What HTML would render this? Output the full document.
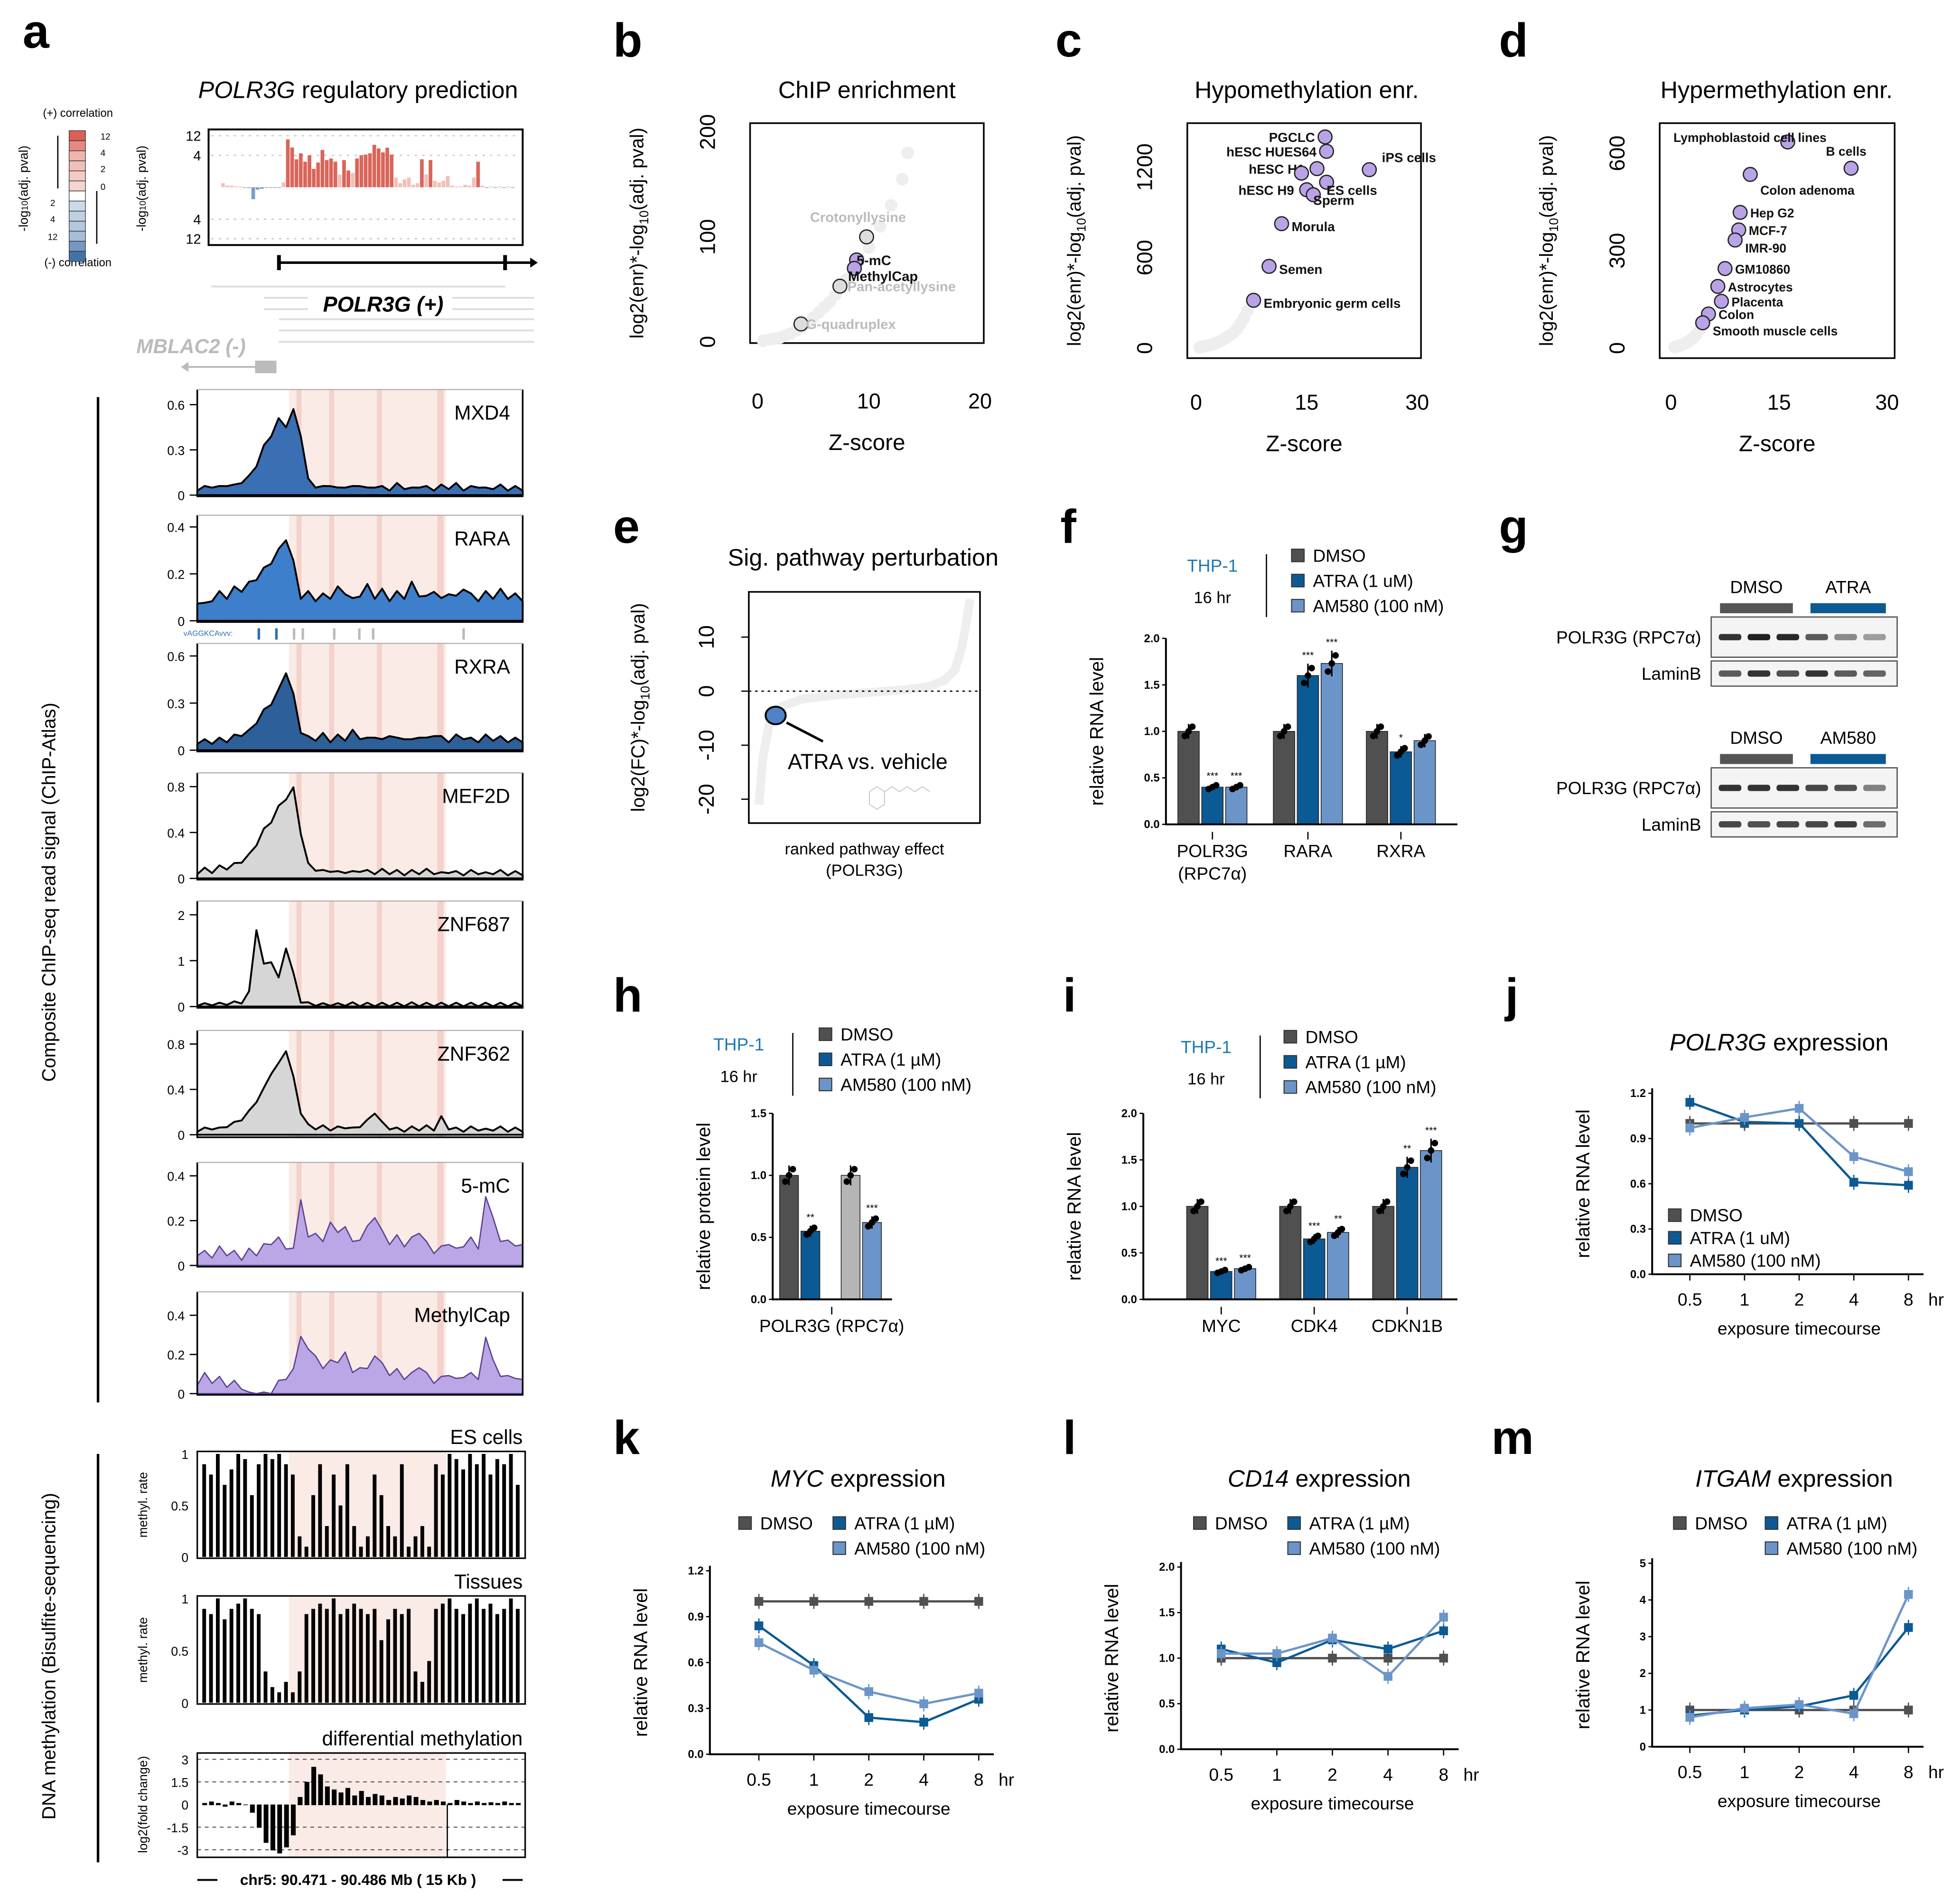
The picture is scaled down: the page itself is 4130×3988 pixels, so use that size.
<!DOCTYPE html>
<html><head><meta charset="utf-8">
<style>
html,body{margin:0;padding:0;background:#fff;}
svg{display:block;font-family:"Liberation Sans",sans-serif;}
.pl{font-size:38px;font-weight:bold;}
.tt{font-size:19px;}
.tk{font-size:11px;}
.at{font-size:15px;}
</style></head>
<body>
<svg id="fig" xmlns="http://www.w3.org/2000/svg" width="4130" height="3988" viewBox="0 0 1560 1506.4">
<rect width="1560" height="1506.4" fill="#fff"/>
<g>
<text class="pl" x="18" y="38">a</text>
<text class="pl" x="488" y="45">b</text>
<text class="pl" x="840" y="45">c</text>
<text class="pl" x="1193" y="45">d</text>
<text class="pl" x="488" y="432">e</text>
<text class="pl" x="844" y="432">f</text>
<text class="pl" x="1193" y="432">g</text>
<text class="pl" x="488" y="805">h</text>
<text class="pl" x="846" y="805">i</text>
<text class="pl" x="1198" y="805">j</text>
<text class="pl" x="488" y="1157">k</text>
<text class="pl" x="846" y="1157">l</text>
<text class="pl" x="1187" y="1157">m</text>
</g>
<text class="tt" x="285" y="78" text-anchor="middle"><tspan font-style="italic">POLR3G</tspan> regulatory prediction</text>
<text class="tt" x="690" y="78" text-anchor="middle">ChIP enrichment</text>
<text class="tt" x="1040" y="78" text-anchor="middle">Hypomethylation enr.</text>
<text class="tt" x="1414" y="78" text-anchor="middle">Hypermethylation enr.</text>
<text class="tt" x="687" y="450" text-anchor="middle">Sig. pathway perturbation</text>
<text class="tt" x="1416" y="836" text-anchor="middle"><tspan font-style="italic">POLR3G</tspan> expression</text>
<text class="tt" x="683" y="1183" text-anchor="middle"><tspan font-style="italic">MYC</tspan> expression</text>
<text class="tt" x="1050" y="1183" text-anchor="middle"><tspan font-style="italic">CD14</tspan> expression</text>
<text class="tt" x="1428" y="1183" text-anchor="middle"><tspan font-style="italic">ITGAM</tspan> expression</text>

<text class="at" transform="translate(44,710) rotate(-90)" text-anchor="middle" font-size="16">Composite ChIP-seq read signal (ChIP-Atlas)</text>
<line x1="78" y1="316" x2="78" y2="1116" stroke="#000" stroke-width="2"/>
<text class="at" transform="translate(44,1318) rotate(-90)" text-anchor="middle" font-size="16">DNA methylation (Bisulfite-sequencing)</text>
<line x1="78" y1="1157" x2="78" y2="1482" stroke="#000" stroke-width="2"/>

<g>
<text x="62" y="93" font-size="9" text-anchor="middle">(+) correlation</text>
<text x="62" y="212" font-size="9" text-anchor="middle">(-) correlation</text>
<text transform="translate(22,150) rotate(-90)" font-size="10" text-anchor="middle">-log<tspan font-size="7">10</tspan>(adj. pval)</text>
<g id="legcells"></g>
<line x1="46" y1="150" x2="46" y2="108" stroke="#000"/>
<line x1="77" y1="152" x2="77" y2="194" stroke="#000"/>
<text x="80" y="111" font-size="7">12</text>
<text x="80" y="124" font-size="7">4</text>
<text x="80" y="137" font-size="7">2</text>
<text x="80" y="151" font-size="7">0</text>
<text x="40" y="164" font-size="7">2</text>
<text x="40" y="177" font-size="7">4</text>
<text x="38" y="191" font-size="7">12</text>
</g>
<g>
<rect x="166" y="103" width="250" height="92" fill="none" stroke="#000" stroke-width="1.5"/>
<text transform="translate(116,150) rotate(-90)" font-size="10" text-anchor="middle">-log<tspan font-size="7">10</tspan>(adj. pval)</text>
<g id="predticks"></g>
<g id="predbars"></g>
<line x1="222" y1="209" x2="424" y2="209" stroke="#000" stroke-width="2"/>
<line x1="222" y1="203" x2="222" y2="215" stroke="#000" stroke-width="3"/>
<line x1="402" y1="203" x2="402" y2="215" stroke="#000" stroke-width="3"/>
<polygon points="422,205 428,209 422,213" fill="#000"/>
<g stroke="#ddd" stroke-width="1.5">
<line x1="168" y1="228" x2="402" y2="228"/><line x1="210" y1="237" x2="245" y2="237"/><line x1="360" y1="237" x2="425" y2="237"/>
<line x1="210" y1="246" x2="245" y2="246"/><line x1="360" y1="246" x2="425" y2="246"/>
<line x1="222" y1="254" x2="425" y2="254"/><line x1="222" y1="263" x2="425" y2="263"/><line x1="222" y1="272" x2="425" y2="272"/>
</g>
<text x="305" y="248" text-anchor="middle" font-size="17" font-weight="bold" font-style="italic">POLR3G (+)</text>
<text x="152" y="281" text-anchor="middle" font-size="16" font-weight="bold" font-style="italic" fill="#bbb">MBLAC2 (-)</text>
<line x1="150" y1="292" x2="205" y2="292" stroke="#bbb" stroke-width="1.5"/>
<rect x="203" y="287" width="17" height="10" fill="#bbb"/>
<polygon points="144,292 150,288 150,296" fill="#bbb"/>
</g>
<g id="tracks"></g>
<g id="methyl"></g>
<text x="285" y="1500" text-anchor="middle" font-size="12" font-weight="bold">chr5: 90.471 - 90.486 Mb ( 15 Kb )</text>
<line x1="157" y1="1496" x2="173" y2="1496" stroke="#000" stroke-width="1.5"/>
<line x1="400" y1="1496" x2="416" y2="1496" stroke="#000" stroke-width="1.5"/>

<g id="scatters"></g>
<g id="panelE"></g>
<g id="bars"></g>
<g id="western"></g>
<g id="lines"></g>
</svg>
<script>
// ---------- DATA ----------
const legendVals=[12,8,4,3,2,1,0,-1,-2,-3,-4,-8,-12];
const predVals=[0.5,0.2,0.2,0.1,0.1,0,-0.1,-1.5,-0.3,-0.2,0,0,0,0,0.6,10.5,7.2,3.5,4.8,3.2,4.0,2.3,3.1,6.2,3.4,3.6,3.2,1.6,3.4,2.1,1.8,3.6,4.0,4.3,4.8,8.3,6.8,5.2,7.1,4.3,1.2,0.5,1.0,1.2,0.3,0.5,3.5,1.6,3.4,0.8,0.6,0.8,1.4,0.2,0.1,0.1,0.3,0.2,1.2,3.2,0.2,0,0.1,0,0.1,0,0.1,0];
const mxd4=[0.04,0.05,0.06,0.05,0.07,0.06,0.09,0.12,0.2,0.32,0.4,0.5,0.46,0.56,0.4,0.1,0.06,0.05,0.07,0.04,0.06,0.05,0.07,0.04,0.06,0.05,0.04,0.07,0.05,0.04,0.06,0.05,0.04,0.06,0.05,0.07,0.04,0.05,0.06,0.04,0.05,0.06,0.04,0.05,0.04];
const rara=[0.08,0.07,0.09,0.12,0.1,0.14,0.13,0.16,0.18,0.22,0.25,0.3,0.35,0.25,0.1,0.12,0.09,0.11,0.1,0.14,0.12,0.09,0.11,0.15,0.1,0.13,0.09,0.12,0.1,0.16,0.11,0.1,0.13,0.09,0.12,0.1,0.14,0.11,0.09,0.12,0.1,0.13,0.1,0.11,0.09];
const rxra=[0.05,0.06,0.05,0.07,0.06,0.09,0.1,0.12,0.18,0.25,0.3,0.38,0.5,0.35,0.12,0.08,0.07,0.1,0.06,0.09,0.07,0.12,0.08,0.07,0.09,0.06,0.1,0.07,0.08,0.06,0.09,0.07,0.1,0.08,0.06,0.09,0.08,0.07,0.06,0.09,0.07,0.08,0.06,0.07,0.06];
const mef2d=[0.05,0.08,0.06,0.1,0.09,0.12,0.15,0.2,0.3,0.42,0.5,0.62,0.7,0.78,0.4,0.12,0.08,0.06,0.07,0.05,0.06,0.05,0.07,0.06,0.05,0.07,0.05,0.06,0.04,0.06,0.05,0.07,0.05,0.04,0.06,0.05,0.04,0.06,0.05,0.04,0.05,0.06,0.04,0.05,0.04];
const znf687=[0.05,0.04,0.06,0.05,0.07,0.08,0.1,0.3,1.7,0.9,1.0,0.6,1.3,0.7,0.12,0.06,0.05,0.04,0.05,0.04,0.05,0.06,0.04,0.05,0.04,0.05,0.04,0.05,0.04,0.06,0.04,0.05,0.04,0.05,0.04,0.05,0.04,0.05,0.04,0.05,0.04,0.05,0.04,0.05,0.04];
const znf362=[0.04,0.05,0.06,0.05,0.08,0.1,0.14,0.2,0.3,0.4,0.55,0.62,0.75,0.5,0.2,0.08,0.06,0.07,0.05,0.06,0.07,0.05,0.08,0.12,0.2,0.1,0.06,0.05,0.04,0.06,0.05,0.07,0.05,0.15,0.06,0.05,0.04,0.06,0.05,0.04,0.05,0.06,0.04,0.05,0.04];
const mc5=[0.05,0.06,0.04,0.08,0.05,0.06,0.03,0.07,0.05,0.09,0.1,0.12,0.08,0.07,0.3,0.12,0.15,0.1,0.2,0.14,0.18,0.1,0.12,0.17,0.22,0.15,0.1,0.13,0.09,0.12,0.15,0.1,0.06,0.08,0.1,0.07,0.09,0.12,0.08,0.3,0.22,0.1,0.12,0.08,0.1];
const methylcap=[0.05,0.1,0.06,0.08,0.04,0.06,0.03,0.0,0.0,0.0,0.0,0.06,0.08,0.12,0.3,0.22,0.2,0.12,0.18,0.15,0.22,0.1,0.14,0.12,0.2,0.15,0.1,0.12,0.08,0.1,0.14,0.1,0.06,0.08,0.1,0.07,0.09,0.1,0.08,0.28,0.18,0.08,0.1,0.07,0.08];
const esRate=[0.9,0.8,1,0.7,0.85,1,0.95,0.6,0.9,1,0.95,1,0.9,0.8,0.2,0.1,0.6,0.9,0.3,0.8,0.5,0.9,0.3,0.1,0.2,0.8,0.6,0.3,0.2,0.9,0.1,0.2,0.3,0.1,0.9,0.8,1,0.95,0.85,1,0.9,1,0.8,0.95,0.9,1,0.7];
const tissueRate=[0.9,0.85,1,0.8,0.9,0.95,1,0.9,0.85,0.3,0.15,0.1,0.2,0.1,0.3,0.85,0.9,0.95,0.9,1,0.85,0.9,0.95,0.9,0.85,0.9,0.6,0.8,0.9,0.85,0.9,0.3,0.2,0.4,0.9,0.95,1,0.9,0.85,0.95,1,0.9,0.95,0.85,0.9,1,0.9];
const diffMeth=[0.1,0.2,0.1,-0.1,0.2,0.1,0,-0.5,-1.5,-2.5,-3,-3.2,-2.8,-2,0.5,1.5,2.5,2,1.2,1,0.8,1.1,0.6,0.9,0.5,0.7,0.6,0.3,0.5,0.4,0.6,0.5,0.3,0.2,0.3,0.2,0.1,0.3,0.2,0.1,0.2,0.1,0.15,0.1,0.2,0.1,0.1];

const bX=[9.8,8.9,8.7,7.4,3.9];
const bY=[100,78,70,53,17];
const bLab=['Crotonyllysine','5-mC','MethylCap','Pan-acetyllysine','G-quadruplex'];
const bBgX=[0.5,1,1.5,2,2.5,3,3.5,4,4.5,5,5.5,6,6.5,7,7.5,8,9,10,11,12,13,13.5];
const bBgY=[1,2,3,4,6,8,11,14,18,23,28,33,38,45,52,60,75,90,110,130,155,180];
const cX=[17.5,17.7,16.4,14.3,15,23.5,17.7,15.9,11.6,9.9,7.8];
const cY=[1400,1305,1190,1160,1050,1183,1100,1017,825,542,317];
const cLab=['PGCLC','hESC HUES64','hESC H1','','hESC H9','iPS cells','ES cells','Sperm','Morula','Semen','Embryonic germ cells'];
const cBgX=[0.5,1,1.5,2,2.5,3,3.5,4,4.5,5,5.5,6,6.5,7];
const cBgY=[5,10,15,22,30,40,52,66,82,100,125,160,200,250];
const dX=[16.2,25,11,9.6,9.4,8.9,7.5,6.5,7,5.2,4.4];
const dY=[635,554,535,418,364,333,245,190,144,105,78];
const dLab=['Lymphoblastoid cell lines','B cells','Colon adenoma','Hep G2','MCF-7','IMR-90','GM10860','Astrocytes','Placenta','Colon','Smooth muscle cells'];
const dBgX=[0.5,1,1.5,2,2.5,3,3.5,4];
const dBgY=[3,6,10,15,22,30,42,58];
const eRank=[0,0.02,0.05,0.1,0.2,0.3,0.4,0.5,0.6,0.7,0.8,0.88,0.93,0.96,0.98,1];
const eVal=[-21,-12,-6,-3,-1.5,-1,-0.6,-0.3,0,0.3,0.8,2,4,8,12,17];
const fGroups=['POLR3G','RARA','RXRA'];
const fDMSO=[1.0,1.0,1.0];
const fATRA=[0.40,1.60,0.78];
const fAM580=[0.40,1.73,0.90];
const fTicks=[0,0.5,1.0,1.5,2.0];
const hVals=[1.0,0.55,1.0,0.62];
const hTicks=[0,0.5,1.0,1.5];
const iGroups=['MYC','CDK4','CDKN1B'];
const iDMSO=[1.0,1.0,1.0];
const iATRA=[0.30,0.65,1.42];
const iAM580=[0.33,0.72,1.60];
const iTicks=[0,0.5,1.0,1.5,2.0];
const times=['0.5','1','2','4','8'];
const jDMSO=[1,1,1,1,1];
const jATRA=[1.14,1.01,1.0,0.61,0.59];
const jAM580=[0.97,1.04,1.1,0.78,0.68];
const jTicks=[0,0.3,0.6,0.9,1.2];
const kDMSO=[1,1,1,1,1];
const kATRA=[0.84,0.58,0.24,0.21,0.36];
const kAM580=[0.73,0.55,0.41,0.33,0.40];
const kTicks=[0,0.3,0.6,0.9,1.2];
const lDMSO=[1,1,1,1,1];
const lATRA=[1.1,0.95,1.2,1.1,1.3];
const lAM580=[1.05,1.05,1.22,0.8,1.45];
const lTicks=[0,0.5,1.0,1.5,2.0];
const mDMSO=[1,1,1,1,1];
const mATRA=[0.85,1.0,1.1,1.4,3.25];
const mAM580=[0.8,1.05,1.15,0.9,4.15];
const mTicks=[0,1,2,3,4,5];

// ---------- HELPERS ----------
const NS='http://www.w3.org/2000/svg';
const C_D='#505050', C_A='#0c5a94', C_M='#6b95c9';
function mk(tag,attrs,parent){const e=document.createElementNS(NS,tag);for(const k in attrs)e.setAttribute(k,attrs[k]);(parent||document.getElementById('fig')).appendChild(e);return e;}
function tx(x,y,s,attrs,parent){const e=mk('text',Object.assign({x:x,y:y},attrs||{}),parent);e.textContent=s;return e;}
function grp(name){const g=mk('g',{});
return g;}

(function(){const g=document.getElementById('legcells');
legendVals.forEach((v,i)=>{const t=Math.min(Math.abs(v)/12,1)*0.8+ (v===0?0:0.2);
const col=v>0?`rgb(${255-Math.round(t*35)},${255-Math.round(t*160)},${255-Math.round(t*170)})`:(v<0?`rgb(${255-Math.round(t*190)},${255-Math.round(t*140)},${255-Math.round(t*85)})`:'#fff');
const r=mk('rect',{x:55,y:104+i*8,width:13,height:8,fill:col,stroke:'#333','stroke-width':0.5},g);

});})();

(function(){const g=document.getElementById('predticks');const z=149;
const yOf=v=>{const a=Math.abs(v);const m=a<=4?a/4*0.62:0.62+(a-4)/8*0.38;return z-Math.sign(v)*m*41;};
[[12,1],[4,1],[4,-1],[12,-1]].forEach(([v,sg])=>{const y=yOf(v*sg);
const l=mk('line',{x1:168,x2:414,y1:y,y2:y,stroke:'#ccc','stroke-dasharray':'2,4'},g);


const t=tx(160,y+4,String(v),{'font-size':11,'text-anchor':'end'},g);

});
const gb=document.getElementById('predbars');const x0=176,w=(410-176)/predVals.length;
predVals.forEach((v,i)=>{const y=yOf(v);const col=v>0?(v>2?'#d9655a':'#f0c0b8'):'#7a9cc8';
const r=mk('rect',{x:x0+i*w,y:Math.min(y,z),width:w*0.85,height:Math.max(Math.abs(y-z),0.5),fill:col},gb);

});})();

const trackDefs=[
 {name:'MXD4',top:310,bot:395,z:394,max:0.7,ticks:[0,0.3,0.6],fill:'#3b6fb3',data:mxd4,lw:1.5},
 {name:'RARA',top:410,bot:495,z:494,max:0.45,ticks:[0,0.2,0.4],fill:'#3d7fcb',data:rara,lw:1.5},
 {name:'RXRA',top:512,bot:598,z:597,max:0.68,ticks:[0,0.3,0.6],fill:'#2d5f99',data:rxra,lw:1.5},
 {name:'MEF2D',top:615,bot:700,z:699,max:0.92,ticks:[0,0.4,0.8],fill:'#d6d6d6',data:mef2d,lw:1.5},
 {name:'ZNF687',top:717,bot:802,z:801,max:2.3,ticks:[0,1,2],fill:'#d6d6d6',data:znf687,lw:1.5},
 {name:'ZNF362',top:820,bot:905,z:903,max:0.92,ticks:[0,0.4,0.8],fill:'#d6d6d6',data:znf362,lw:1.5},
 {name:'5-mC',top:925,bot:1008,z:1007,max:0.46,ticks:[0,0.2,0.4],fill:'#bba6e6',data:mc5,lw:1,stroke:'#5a3f90'},
 {name:'MethylCap',top:1028,bot:1110,z:1109,max:0.52,ticks:[0,0.2,0.4],fill:'#bba6e6',data:methylcap,lw:1,stroke:'#5a3f90'}];
(function(){const G=document.getElementById('tracks');const X0=157,X1=416;
trackDefs.forEach(td=>{const g=mk('g',{},G);


const ys=v=>td.z-v/td.max*(td.z-td.top);
[[230,355,'rgba(244,210,200,0.45)'],[236,240,'rgba(235,170,160,0.4)'],[262,266,'rgba(235,170,160,0.4)'],[300,304,'rgba(235,170,160,0.4)'],[348,353,'rgba(235,170,160,0.4)']].forEach(b=>{
const r=mk('rect',{x:b[0],y:td.top,width:b[1]-b[0],height:td.bot-td.top,fill:b[2]},g);

});
const n=td.data.length,dx=(X1-X0)/(n-1);let d=`M${X0},${td.z}`;
td.data.forEach((v,i)=>{const j=(i%2?1:-1)*0.015*td.max;d+=` L${X0+i*dx},${ys(Math.max(v+j,0))}`;});
const area=mk('path',{d:d+` L${X1},${td.z} Z`,fill:td.fill,stroke:td.stroke||'#000','stroke-width':td.lw,'stroke-linejoin':'round'},g);


const box=mk('path',{d:`M${X0},${td.top} V${td.bot} H${X1} V${td.top}`,fill:'none',stroke:'#000','stroke-width':1.3},g);


const lt=mk('line',{x1:X0,x2:X1,y1:td.top,y2:td.top,stroke:'#aaa','stroke-width':0.8},g);


td.ticks.forEach(t=>{const y=ys(t);const tl=tx(147,y+4,String(t),{'font-size':10,'text-anchor':'end'},g);


const tk=mk('line',{x1:151,x2:157,y1:y,y2:y,stroke:'#000'},g);

});
const nm=tx(406,td.top+24,td.name,{'font-size':16,'text-anchor':'end'},g);

});
const motif=tx(146,506,'vAGGKCAvvv:',{'font-size':6,fill:'#2a6fb5'},G);


[205,219,233,240,265,285,296,368].forEach((x,i)=>{const m=mk('rect',{x:x,y:500,width:2,height:9,fill:i<2?'#2a6fb5':'#bbb'},G);

});})();

(function(){const G=document.getElementById('methyl');const X0=157,X1=418;
const defs=[{name:'ES cells',top:1155,bot:1240,data:esRate},{name:'Tissues',top:1270,bot:1356,data:tissueRate}];
defs.forEach(td=>{const g=mk('g',{},G);


const bnd=mk('rect',{x:230,y:td.top,width:125,height:td.bot-td.top,fill:'rgba(244,210,200,0.45)'},g);


const z=td.bot-1,h=td.bot-td.top-3;const n=td.data.length,dx=(X1-X0-6)/n;
td.data.forEach((v,i)=>{const x=X0+4+i*dx;const r=mk('rect',{x:x,y:z-v*h,width:dx*0.55,height:v*h,fill:'#000'},g);

});
const f=mk('rect',{x:X0,y:td.top,width:X1-X0,height:td.bot-td.top,fill:'none',stroke:'#000','stroke-width':1.2},g);


[[0,z],[0.5,z-h/2],[1,z-h]].forEach(([v,y])=>{const t=tx(150,y+4,String(v),{'font-size':10,'text-anchor':'end'},g);

});
const yl=tx(0,0,'methyl. rate',{'font-size':10,'text-anchor':'middle',transform:`translate(117,${(td.top+td.bot)/2}) rotate(-90)`},g);


const nm=tx(416,td.top-6,td.name,{'font-size':16,'text-anchor':'end'},g);

});
const g=mk('g',{},G);


const top=1395,bot=1478,z=1436,sc=12;
const bnd=mk('rect',{x:230,y:top,width:125,height:bot-top,fill:'rgba(244,210,200,0.45)'},g);


[3,1.5,0,-1.5,-3].forEach(v=>{const y=z-v*sc;
if(v!==0){const l=mk('line',{x1:X0,x2:X1,y1:y,y2:y,stroke:'#555','stroke-dasharray':'3,3','stroke-width':0.8},g);

}
const t=tx(150,y+4,String(v),{'font-size':10,'text-anchor':'end'},g);

});
const n=diffMeth.length,dx=(X1-X0-6)/n;
diffMeth.forEach((v,i)=>{const x=X0+4+i*dx;const y=z-v*sc;const r=mk('rect',{x:x,y:Math.min(y,z),width:dx*0.7,height:Math.abs(v*sc)+0.5,fill:'#000'},g);

});
const ln=mk('line',{x1:356,x2:356,y1:1436,y2:1478,stroke:'#000'},g);


const f=mk('rect',{x:X0,y:top,width:X1-X0,height:bot-top,fill:'none',stroke:'#000','stroke-width':1.2},g);


const nm=tx(416,top-6,'differential methylation',{'font-size':16,'text-anchor':'end'},g);


const yl=tx(0,0,'log2(fold change)',{'font-size':10,'text-anchor':'middle',transform:`translate(117,1436) rotate(-90)`},g);

})();

function scatter(o){const g=grp(o.name);
const xs=v=>o.x0+(v-o.xmin)/(o.xmax-o.xmin)*(o.x1-o.x0);
const ys=v=>o.yz-(v/o.ymax)*(o.yz-o.ytop);
const fr=mk('rect',{x:o.bx0,y:o.by0,width:o.bx1-o.bx0,height:o.by1-o.by0,fill:'none',stroke:'#000','stroke-width':1.3},g);


o.bgX.forEach((v,i)=>{const c=mk('circle',{cx:xs(v),cy:ys(o.bgY[i]),r:5,fill:'#eee'},g);

});
o.xticks.forEach(v=>{const t=tx(xs(v),o.xly,String(v),{'font-size':17,'text-anchor':'middle'},g);

});
o.yticks.forEach(v=>{const t=tx(0,0,String(v),{'font-size':17,'text-anchor':'middle',transform:`translate(${o.bx0-28},${ys(v)}) rotate(-90)`},g);

});
const xl=tx((o.bx0+o.bx1)/2,o.xly+33,'Z-score',{'font-size':18,'text-anchor':'middle'},g);


const yl=mk('text',{'font-size':15,'text-anchor':'middle',transform:`translate(${o.bx0-85},${(o.by0+o.by1)/2}) rotate(-90)`},g);
yl.innerHTML='log2(enr)*-log<tspan font-size="10" dy="4">10</tspan><tspan dy="-4">(adj. pval)</tspan>';


o.X.forEach((v,i)=>{const c=mk('circle',{cx:xs(v),cy:ys(o.Y[i]),r:o.r,fill:o.cols?o.cols[i]:'#b9a3e6',stroke:'#222','stroke-width':1},g);


if(o.L[i]){const t=tx(xs(v)+o.lo[i][0],ys(o.Y[i])+o.lo[i][1],o.L[i],{'font-size':o.fs,'font-weight':'bold','text-anchor':o.lo[i][2]||'start',fill:o.lcol?o.lcol[i]:'#111'},g);

}});}
scatter({name:'panel-b-chart',bx0:597,bx1:783,by0:98,by1:273,x0:603,x1:780,xmin:0,xmax:20,yz:272,ytop:105,ymax:200,xticks:[0,10,20],yticks:[0,100,200],xly:325,
X:bX,Y:bY,L:bLab,bgX:bBgX,bgY:bBgY,r:5.5,fs:11,cols:['#ddd','#b9a3e6','#b9a3e6','#ddd','#ddd'],lcol:['#bbb','#111','#111','#bbb','#bbb'],
lo:[[-45,-12],[0,4],[-5,10],[6,4],[4,4]]});
scatter({name:'panel-c-chart',bx0:945,bx1:1131,by0:98,by1:285,x0:952,x1:1128,xmin:0,xmax:30,yz:277,ytop:133,ymax:1200,xticks:[0,15,30],yticks:[0,600,1200],xly:326,
X:cX,Y:cY,L:cLab,bgX:cBgX,bgY:cBgY,r:5.5,fs:10.5,
lo:[[-8,4,'end'],[-8,4,'end'],[-10,4,'end'],[0,0],[-10,4,'end'],[10,-6],[0,10],[0,8],[8,6],[8,6],[8,6]]});
scatter({name:'panel-d-chart',bx0:1321,bx1:1508,by0:98,by1:285,x0:1330,x1:1502,xmin:0,xmax:30,yz:277,ytop:122,ymax:600,xticks:[0,15,30],yticks:[0,300,600],xly:326,
X:dX,Y:dY,L:dLab,bgX:dBgX,bgY:dBgY,r:5.5,fs:10,
lo:[[-30,0,'middle'],[-20,-10],[8,16],[8,4],[8,4],[8,10],[8,4],[8,4],[8,4],[8,4],[8,10]]});

(function(){const g=document.getElementById('panelE');
const x0=596,x1=780,y0=471,y1=655;const xs=v=>x0+8+v*(x1-x0-16);const ys=v=>550-v*4.3;
const fr=mk('path',{d:`M${x0},${y0} V${y1} H${x1} V${y0} Z`,fill:'none',stroke:'#000','stroke-width':1.3},g);


let d='';eRank.forEach((v,i)=>{d+=(i?' L':'M')+xs(v)+','+Math.max(y0+2,Math.min(y1-2,ys(eVal[i])));});
const cv=mk('path',{d:d,fill:'none',stroke:'#eee','stroke-width':7},g);


const zl=mk('line',{x1:x0,x2:x1,y1:ys(0),y2:ys(0),stroke:'#000','stroke-dasharray':'2,3'},g);


[10,0,-10,-20].forEach(v=>{const t=tx(0,0,String(v),{'font-size':17,'text-anchor':'middle',transform:`translate(${x0-28},${ys(v)}) rotate(-90)`},g);


const tk=mk('line',{x1:x0-6,x2:x0,y1:ys(v),y2:ys(v),stroke:'#000'},g);

});
const pt=mk('ellipse',{cx:xs(eRank[1])+10,cy:ys(-4.5),rx:8,ry:7,fill:'#4f82c6',stroke:'#000','stroke-width':1.5},g);


const ln=mk('line',{x1:626,y1:575,x2:655,y2:590,stroke:'#000','stroke-width':2},g);


const lb=tx(627,612,'ATRA vs. vehicle',{'font-size':17},g);


const mol=mk('path',{d:'M692,630 l6,-4 6,4 6,-4 6,4 6,-4 6,4 6,-4 6,4 M692,630 v10 l6,4 6,-4 v-10',fill:'none',stroke:'#ccc','stroke-width':0.8},g);


const xl=tx(688,680,'ranked pathway effect',{'font-size':13,'text-anchor':'middle'},g);


const xl2=tx(688,697,'(POLR3G)',{'font-size':13,'text-anchor':'middle'},g);


const yl=mk('text',{'font-size':15,'text-anchor':'middle',transform:`translate(513,563) rotate(-90)`},g);
yl.innerHTML='log2(FC)*-log<tspan font-size="10" dy="4">10</tspan><tspan dy="-4">(adj. pval)</tspan>';

})();

function legend(g,x,y,items,gap){items.forEach((it,i)=>{const r=mk('rect',{x:x,y:y+i*gap-10,width:10,height:10,fill:it[1],stroke:'#333','stroke-width':0.8},g);


const t=tx(x+17,y+i*gap,it[0],{'font-size':14},g);

});}
function thp(g,x,y){const a=tx(x,y,'THP-1',{'font-size':14,fill:'#1d78b5','text-anchor':'middle'},g);


const b=tx(x,y+25,'16 hr',{'font-size':13,'text-anchor':'middle'},g);


const l=mk('line',{x1:x+43,x2:x+43,y1:y-14,y2:y+36,stroke:'#000'},g);

}

function barChart(o){const g=grp(o.name);
const ys=v=>o.y0-v/o.max*(o.y0-o.yt);
o.ticks.forEach(t=>{const tl=tx(o.ax-5,ys(t)+3,t.toFixed(1),{'font-size':9,'text-anchor':'end','font-weight':'bold'},g);


const tk=mk('line',{x1:o.ax-3,x2:o.ax,y1:ys(t),y2:ys(t),stroke:'#000'},g);

});
o.series.forEach((s,si)=>{s.vals.forEach((v,gi)=>{const x=o.gx[gi]+o.off[si]-o.bw/2;
const r=mk('rect',{x:x,y:ys(v),width:o.bw,height:o.y0-ys(v),fill:s.col,stroke:'#222','stroke-width':0.6},g);


const e=mk('line',{x1:x+o.bw/2,x2:x+o.bw/2,y1:ys(v*1.08),y2:ys(v*0.92),stroke:'#000','stroke-width':1.2},g);


[-3,0,3].forEach((dd,k)=>{const c=mk('circle',{cx:x+o.bw/2+dd,cy:ys(v*(1+(k-1)*0.05)),r:2.6,fill:'#000'},g);

});
if(s.sig&&s.sig[gi]){const t=tx(x+o.bw/2,ys(v*1.08)-4,s.sig[gi],{'font-size':8,'text-anchor':'middle'},g);

}});});
const ax=mk('path',{d:`M${o.ax},${o.yt} V${o.y0} H${o.ax2}`,fill:'none',stroke:'#000','stroke-width':1.5},g);


o.glab.forEach((l,i)=>{const tk=mk('line',{x1:o.gx[i]+o.lx,x2:o.gx[i]+o.lx,y1:o.y0+6,y2:o.y0+12,stroke:'#000'},g);


l.split('\n').forEach((p,k)=>{const t=tx(o.gx[i]+o.lx,o.y0+26+k*18,p,{'font-size':14,'text-anchor':'middle'},g);

});});
const yl=tx(0,0,o.ytitle,{'font-size':15,'text-anchor':'middle',transform:`translate(${o.ax-50},${(o.y0+o.yt)/2}) rotate(-90)`},g);


return g;}
const LEG=[['DMSO',C_D],['ATRA (1 uM)',C_A],['AM580 (100 nM)',C_M]];
let gf=barChart({name:'panel-f-chart',ax:928,ax2:1160,y0:656,yt:508,max:2,ticks:fTicks,gx:[965,1041,1115],off:[-19,0,19],bw:17,lx:0,
series:[{key:'dmso',vals:fDMSO,col:C_D},{key:'atra',vals:fATRA,col:C_A,sig:['***','***','*']},{key:'am580',vals:fAM580,col:C_M,sig:['***','***','']}],
glab:['POLR3G\n(RPC7α)','RARA','RXRA'],ytitle:'relative RNA level'});
thp(gf,965,455);legend(gf,1028,447,LEG,20);
let gh=barChart({name:'panel-h-chart',ax:615,ax2:710,y0:1034,yt:886,max:1.5,ticks:hTicks,gx:[662],off:[-34,-17,15,32],bw:15,lx:0,
series:[{key:'dmso',vals:[hVals[0]],col:C_D},{key:'atra',vals:[hVals[1]],col:C_A,sig:['**']},{key:'dmso2',vals:[hVals[2]],col:'#b5b5b5'},{key:'am580',vals:[hVals[3]],col:C_M,sig:['***']}],
glab:['POLR3G (RPC7α)'],ytitle:'relative protein level'});
thp(gh,588,836);legend(gh,652,828,[['DMSO',C_D],['ATRA (1 µM)',C_A],['AM580 (100 nM)',C_M]],20);
let gi=barChart({name:'panel-i-chart',ax:910,ax2:1160,y0:1034,yt:886,max:2,ticks:iTicks,gx:[972,1046,1120],off:[-19,0,19],bw:17,lx:0,
series:[{key:'dmso',vals:iDMSO,col:C_D},{key:'atra',vals:iATRA,col:C_A,sig:['***','***','**']},{key:'am580',vals:iAM580,col:C_M,sig:['***','**','***']}],
glab:['MYC','CDK4','CDKN1B'],ytitle:'relative RNA level'});
thp(gi,960,838);legend(gi,1022,830,[['DMSO',C_D],['ATRA (1 µM)',C_A],['AM580 (100 nM)',C_M]],20);

(function(){const g=document.getElementById('western');
const blots=[{y:478,lab2:'ATRA',p:[[1,1],[1.1,1],[1.05,1],[0.8,1],[0.55,0.9],[0.45,0.8]],l:[[0.8],[1],[0.85],[1],[0.8],[0.75]]},
{y:598,lab2:'AM580',p:[[1,1],[1,1],[1,1],[0.9,1],[0.85,1],[0.6,1]],l:[[0.9],[0.85],[0.9],[0.9],[0.95],[0.7]]}];
blots.forEach(b=>{const a=tx(1398,b.y-6,'DMSO',{'font-size':14,'text-anchor':'middle'},g);


const c=tx(1471,b.y-6,b.lab2,{'font-size':14,'text-anchor':'middle'},g);


const r1=mk('rect',{x:1369,y:b.y+2,width:58,height:8,fill:'#555'},g);


const r2=mk('rect',{x:1441,y:b.y+2,width:60,height:8,fill:'#0c5a94'},g);


[[b.y+13,32,'POLR3G (RPC7α)',b.p],[b.y+48,20,'LaminB',b.l]].forEach(([yy,h,lab,ints])=>{
const box=mk('rect',{x:1362,y:yy,width:148,height:h,fill:'#f4f4f4',stroke:'#555','stroke-width':1},g);


const t=tx(1354,yy+h/2+5,lab,{'font-size':14,'text-anchor':'end'},g);


ints.forEach((v,i)=>{const e=mk('rect',{x:1368+i*23,y:yy+h/2-2.5,width:18,height:5,rx:2,fill:'#111','fill-opacity':Math.min(1,v[0]*0.85)},g);

});});});})();

function lineChart(o){const g=grp(o.name);
const xs=i=>o.x0+i*o.step;const ys=v=>o.y0-v/o.max*(o.y0-o.yt);
o.ticks.forEach(t=>{const tl=tx(o.ax-5,ys(t)+3,o.fmt?t.toFixed(1):String(t),{'font-size':9,'text-anchor':'end','font-weight':'bold'},g);


const tk=mk('line',{x1:o.ax-3,x2:o.ax,y1:ys(t),y2:ys(t),stroke:'#000'},g);

});
const ax=mk('path',{d:`M${o.ax},${o.yt-4} V${o.y0} H${xs(times.length-1)+12}`,fill:'none',stroke:'#000','stroke-width':1.5},g);


times.forEach((t,i)=>{const tl=tx(xs(i),o.y0+25,t,{'font-size':14,'text-anchor':'middle'},g);


const tk=mk('line',{x1:xs(i),x2:xs(i),y1:o.y0,y2:o.y0+5,stroke:'#000'},g);

});
const hr=tx(xs(times.length-1)+22,o.y0+25,'hr',{'font-size':14,'text-anchor':'middle'},g);


const xl=tx(xs(2),o.y0+48,'exposure timecourse',{'font-size':14,'text-anchor':'middle'},g);


const yl=tx(0,0,'relative RNA level',{'font-size':15,'text-anchor':'middle',transform:`translate(${o.ax-50},${(o.y0+o.yt)/2}) rotate(-90)`},g);


[['dmso',o.d,C_D],['atra',o.a,C_A],['am580',o.m,C_M]].forEach(([k,vals,col])=>{let d='';
vals.forEach((v,i)=>{d+=(i?' L':'M')+xs(i)+','+ys(v);});
const p=mk('path',{d:d,fill:'none',stroke:col,'stroke-width':1.8},g);


vals.forEach((v,i)=>{const e=mk('line',{x1:xs(i),x2:xs(i),y1:ys(v)-6,y2:ys(v)+6,stroke:col,'stroke-width':1},g);


const s=mk('rect',{x:xs(i)-3.5,y:ys(v)-3.5,width:7,height:7,fill:col},g);

});});
return g;}
let gj=lineChart({name:'panel-j-chart',ax:1315,x0:1345,step:43.5,y0:1014,yt:870,max:1.2,ticks:jTicks,fmt:1,d:jDMSO,a:jATRA,m:jAM580});
legend(gj,1328,972,[['DMSO',C_D],['ATRA (1 uM)',C_A],['AM580 (100 nM)',C_M]],18);
let gk=lineChart({name:'panel-k-chart',ax:565,x0:604,step:43.75,y0:1396,yt:1250,max:1.2,ticks:kTicks,fmt:1,d:kDMSO,a:kATRA,m:kAM580});
legend(gk,588,1217,[['DMSO',C_D]],20);legend(gk,663,1217,[['ATRA (1 µM)',C_A],['AM580 (100 nM)',C_M]],20);
let gl=lineChart({name:'panel-l-chart',ax:940,x0:972,step:44.25,y0:1392,yt:1247,max:2,ticks:lTicks,fmt:1,d:lDMSO,a:lATRA,m:lAM580});
legend(gl,950,1217,[['DMSO',C_D]],20);legend(gl,1025,1217,[['ATRA (1 µM)',C_A],['AM580 (100 nM)',C_M]],20);
let gm=lineChart({name:'panel-m-chart',ax:1315,x0:1345,step:43.5,y0:1390,yt:1244,max:5,ticks:mTicks,d:mDMSO,a:mATRA,m:mAM580});
legend(gm,1332,1217,[['DMSO',C_D]],20);legend(gm,1405,1217,[['ATRA (1 µM)',C_A],['AM580 (100 nM)',C_M]],20);
</script>
</body></html>
